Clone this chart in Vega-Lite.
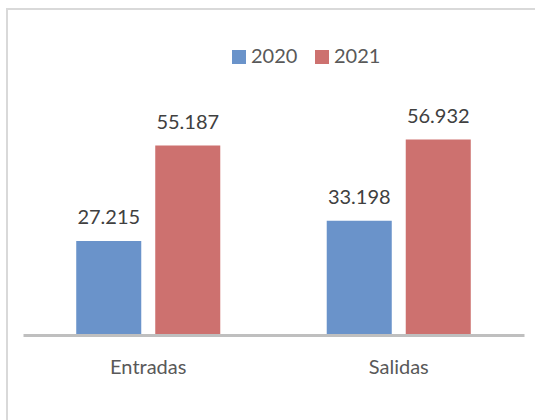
{
  "$schema": "https://vega.github.io/schema/vega-lite/v6.json",
  "width": 540,
  "height": 425,
  "autosize": {"type": "none"},
  "padding": {"left": 7, "top": 9, "right": -12, "bottom": -14},
  "background": "white",
  "config": {"view": {"stroke": "#D9D9D9", "strokeWidth": 2}, "font": "Lato"},
  "data": {"values": [
    {"cat": "Entradas", "year": "2020", "value": 27.215},
    {"cat": "Entradas", "year": "2021", "value": 55.187},
    {"cat": "Salidas", "year": "2020", "value": 33.198},
    {"cat": "Salidas", "year": "2021", "value": 56.932}
  ]},
  "encoding": {
    "x": {
      "field": "cat", "type": "nominal", "sort": null,
      "scale": {"range": [16, 517], "paddingInner": 0.425, "paddingOuter": 0.2125},
      "axis": {"title": null, "orient": "bottom", "offset": -99, "ticks": false, "domainColor": "#BFBFBF", "domainWidth": 3, "labelFont": "Lato", "labelFontSize": 20, "labelColor": "#595959", "labelPadding": 38, "labelAngle": 0, "grid": false, "labelBaseline": "alphabetic"}
    },
    "xOffset": {"field": "year", "type": "nominal", "scale": {"paddingInner": 0.177, "paddingOuter": 0}},
    "y": {"field": "value", "type": "quantitative", "scale": {"domain": [0, 70], "range": [325, 86]}, "axis": null}
  },
  "layer": [
    {
      "mark": {"type": "bar"},
      "encoding": {
        "color": {
          "field": "year", "type": "nominal",
          "scale": {"range": ["#6A93CA", "#CD716F"]},
          "legend": {"orient": "none", "legendX": 222, "legendY": 38, "direction": "horizontal", "title": null, "symbolType": "square", "symbolSize": 196, "symbolStrokeWidth": 0, "labelFont": "Lato", "labelFontSize": 20, "labelColor": "#595959", "labelOffset": 2, "columnPadding": 14, "padding": 0}
        }
      }
    },
    {
      "mark": {"type": "text", "baseline": "alphabetic", "dy": -17, "fontSize": 20, "color": "#404040", "font": "Lato"},
      "encoding": {"text": {"field": "value", "type": "quantitative", "format": ".3f"}}
    }
  ]
}
